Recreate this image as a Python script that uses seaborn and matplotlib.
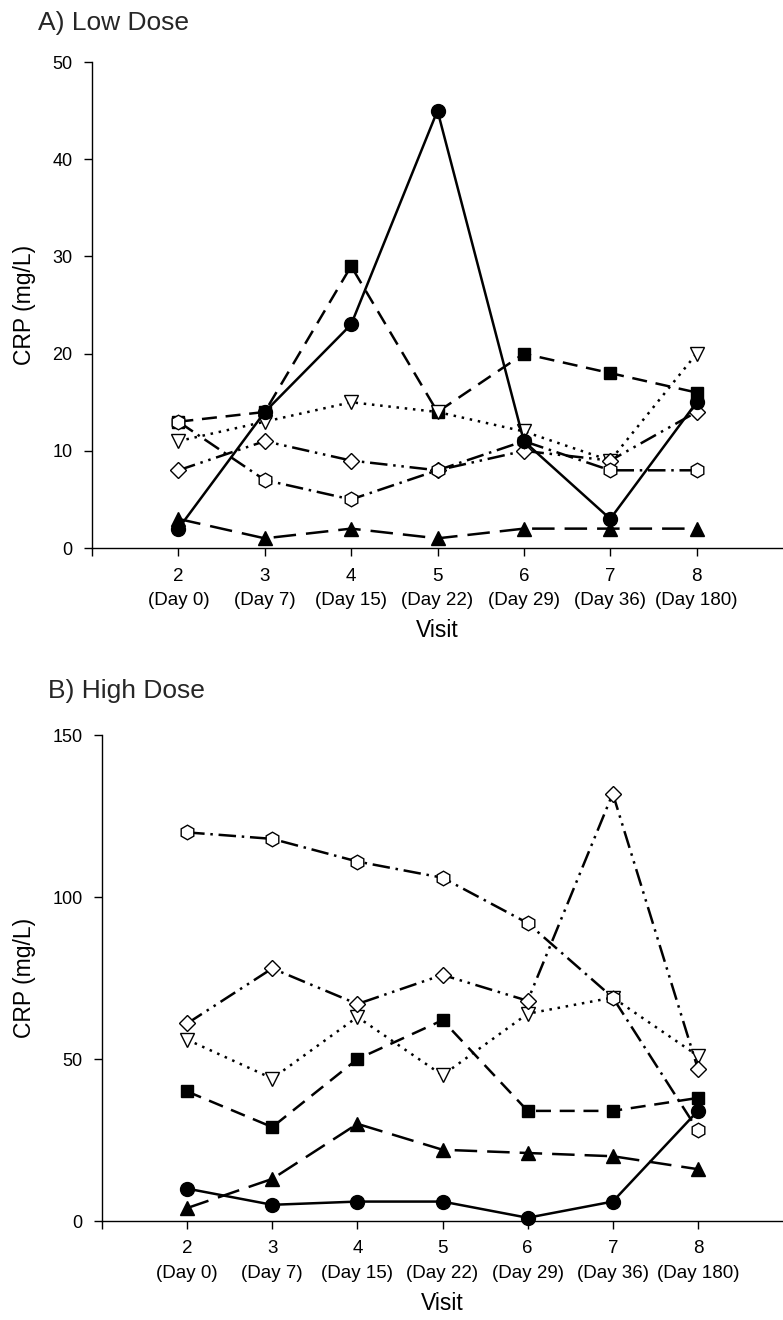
import numpy as np
import pandas as pd
import matplotlib
matplotlib.use("Agg")
import matplotlib.pyplot as plt
import seaborn as sns

visits = [2, 3, 4, 5, 6, 7, 8]
tick_labels = ["", "2\n(Day 0)", "3\n(Day 7)", "4\n(Day 15)", "5\n(Day 22)",
               "6\n(Day 29)", "7\n(Day 36)", "8\n(Day 180)"]

# Low dose
low_circle = [2, 14, 23, 45, 11, 3, 15]
low_square = [13, 14, 29, 14, 20, 18, 16]
low_tri_up = [3, 1, 2, 1, 2, 2, 2]
low_tri_down = [11, 13, 15, 14, 12, 9, 20]
low_diamond = [8, 11, 9, 8, 10, 9, 14]
low_hexagon = [13, 7, 5, 8, 11, 8, 8]

# High dose
high_circle = [10, 5, 6, 6, 1, 6, 34]
high_square = [40, 29, 50, 62, 34, 34, 38]
high_tri_up = [4, 13, 30, 22, 21, 20, 16]
high_tri_down = [56, 44, 63, 45, 64, 69, 51]
high_diamond = [61, 78, 67, 76, 68, 132, 47]
high_hexagon = [120, 118, 111, 106, 92, 69, 28]

sns.set_style("ticks")
plt.rcParams["font.family"] = ["Liberation Sans", "DejaVu Sans"]

styles = {
    "circle": dict(marker="o", mfc="black", ls="-", ms=10),
    "square": dict(marker="s", mfc="black", ls=(0, (6, 3.5)), ms=9),
    "tri_up": dict(marker="^", mfc="black", ls=(0, (9, 4)), ms=10),
    "tri_down": dict(marker="v", mfc="white", ls=(0, (1, 2.3)), ms=10),
    "diamond": dict(marker="D", mfc="white", ls=(0, (7, 2.3, 1, 2.3, 1, 2.3)), ms=8.5),
    "hexagon": dict(marker="h", mfc="white", ls=(0, (7, 2.3, 1, 2.3)), ms=10.5),
}

fig = plt.figure(figsize=(7.83, 13.2), dpi=100)
ax1 = fig.add_axes([0.1175, 0.5848, 0.8825, 0.3682])
ax2 = fig.add_axes([0.1303, 0.075, 0.8697, 0.368])


def draw(ax, series, ymax, ystep):
    for name, vals in series:
        st = styles[name]
        df = pd.DataFrame({"Visit": visits, "CRP": vals})
        sns.lineplot(data=df, x="Visit", y="CRP", ax=ax, color="black",
                     marker=st["marker"], markerfacecolor=st["mfc"],
                     markeredgecolor="black", markeredgewidth=1.0,
                     markersize=st["ms"], linestyle=st["ls"], linewidth=1.8,
                     clip_on=False, zorder=3)
    ax.set_xlim(1, 9)
    ax.set_ylim(0, ymax)
    ax.set_xticks([1, 2, 3, 4, 5, 6, 7, 8])
    ax.set_xticklabels(tick_labels, fontsize=13.5, linespacing=1.6)
    ax.set_yticks(np.arange(0, ymax + 1, ystep))
    ax.tick_params(axis="y", labelsize=13, direction="out", length=6,
                   width=1, color="black", pad=8)
    ax.tick_params(axis="x", direction="out", length=6, width=1,
                   color="black", pad=8)
    ax.set_xlabel("Visit", fontsize=16.5, labelpad=7)
    ax.set_ylabel("CRP (mg/L)", fontsize=16.5, labelpad=12)
    ax.xaxis.label.set_color("black")
    ax.yaxis.label.set_color("black")
    ax.tick_params(colors="black", which="both")
    for s in ["top", "right"]:
        ax.spines[s].set_visible(False)
    for s in ["left", "bottom"]:
        ax.spines[s].set_color("black")
        ax.spines[s].set_linewidth(1.0)


draw(ax1, [("square", low_square), ("tri_up", low_tri_up),
           ("tri_down", low_tri_down), ("diamond", low_diamond),
           ("hexagon", low_hexagon), ("circle", low_circle)], 50, 10)
draw(ax2, [("square", high_square), ("tri_up", high_tri_up),
           ("tri_down", high_tri_down), ("diamond", high_diamond),
           ("hexagon", high_hexagon), ("circle", high_circle)], 150, 50)

fig.text(0.048, 0.9915, "A) Low Dose", fontsize=19, va="top", ha="left")
fig.text(0.061, 0.4855, "B) High Dose", fontsize=19, va="top", ha="left")

fig.savefig("out.png", dpi=100)
